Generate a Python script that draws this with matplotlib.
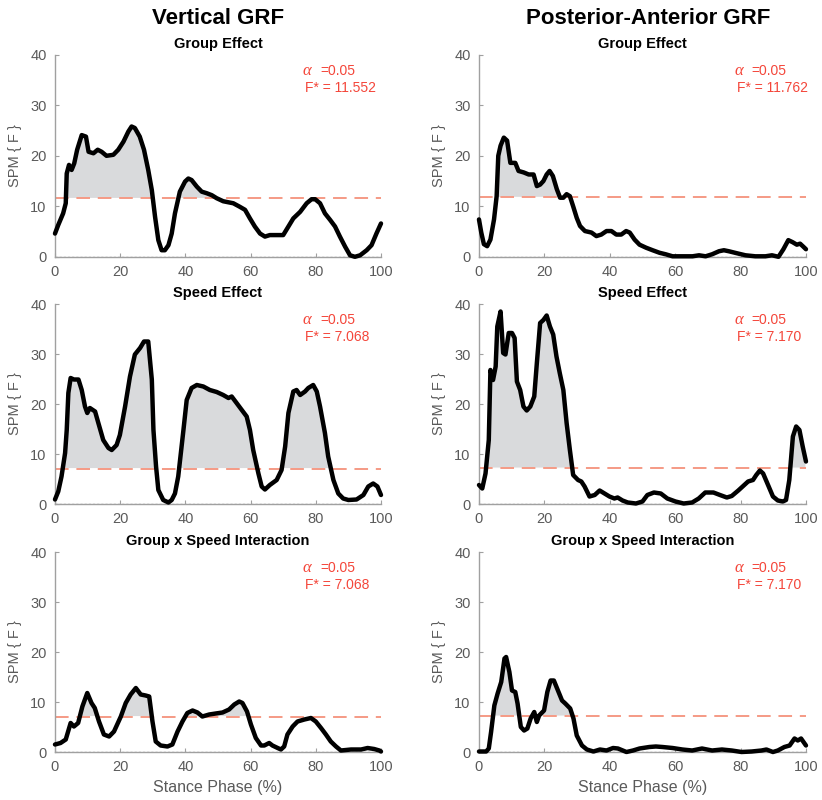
import numpy as np
import matplotlib
matplotlib.use('Agg')
import matplotlib.pyplot as plt

plt.rcParams['font.family'] = ['Liberation Sans', 'DejaVu Sans']

# column / row titles
col_titles = ['Vertical GRF', 'Posterior-Anterior GRF']
row_titles = ['Group Effect', 'Speed Effect', 'Group x Speed Interaction']
alpha_text = '=0.05'
thresholds = [[11.552, 11.762], [7.068, 7.170], [7.068, 7.170]]

# vertical GRF - group effect
vg_x = [0, 1, 2.5, 3.3, 3.6, 4.3, 5.1, 5.9, 6.8, 8.2, 9.5, 10.3, 11.8, 13.1, 14.3, 15.8,
        17.9, 19.4, 21, 22.5, 23.5, 24.5, 26, 27.3, 28.6, 29.7, 30.7, 31.7, 32.7, 33.7,
        34.8, 35.8, 36.8, 38.3, 39.9, 40.9, 41.9, 43.5, 45, 46.5, 48.1, 49.6, 51.6, 54.7,
        56.7, 58.3, 59.8, 61.3, 62.9, 64.4, 65.9, 68, 70, 71.6, 73.1, 75.2, 77.2, 78.7,
        79.8, 81.3, 82.8, 84.4, 85.9, 87.4, 89, 90.5, 92, 93.6, 95.6, 97.1, 98.6, 100]
vg_y = [4.6, 6.3, 8.6, 10.6, 16.5, 18.2, 17.2, 18.5, 21.2, 24.1, 23.8, 20.8, 20.5, 21.2,
        20.8, 20.0, 20.2, 21.2, 22.8, 24.8, 25.8, 25.5, 23.8, 21.2, 17.2, 13.2, 7.9, 3.3,
        1.3, 1.3, 2.3, 4.6, 8.6, 12.9, 14.9, 15.5, 15.2, 13.9, 12.9, 12.6, 12.2, 11.6,
        11.0, 10.6, 9.9, 9.3, 7.6, 6.0, 4.6, 4.0, 4.3, 4.3, 4.3, 6.0, 7.6, 8.9, 10.6, 11.4,
        11.4, 10.6, 8.6, 7.3, 6.0, 4.0, 2.0, 0.3, 0.0, 0.3, 1.3, 2.3, 4.6, 6.6]

# posterior-anterior GRF - group effect
pg_x = [0, 0.7, 1.5, 2.5, 3.5, 4.6, 5.4, 5.9, 6.6, 7.6, 8.6, 9.6, 11.1, 12.1, 13.7, 15.2,
        16.7, 17.7, 18.7, 19.7, 20.7, 21.6, 22.6, 23.8, 24.8, 25.8, 26.8, 27.8, 28.8,
        29.9, 30.9, 32.4, 34.4, 35.9, 37.4, 39, 40.5, 42, 43.5, 45, 46.1, 47.6, 49.1,
        51.1, 53.1, 55.2, 57.1, 59.2, 62.2, 65.3, 67.3, 69.3, 71.3, 73.4, 74.9, 76.4,
        78.9, 81.5, 84.5, 87.6, 89.6, 91.6, 93.1, 94.6, 95.9, 97.2, 98.2, 99.2, 100]
pg_y = [7.4, 4.8, 2.5, 2.1, 3.4, 7.4, 12.0, 20.0, 22.0, 23.6, 23.0, 18.6, 18.6, 17.0,
        16.7, 16.3, 16.3, 14.0, 14.3, 15.0, 16.3, 17.0, 16.0, 13.4, 11.7, 11.7, 12.4,
        12.0, 10.0, 7.7, 6.1, 5.1, 4.8, 4.1, 4.4, 5.1, 5.1, 4.4, 4.4, 5.1, 4.8, 3.4, 2.4,
        1.8, 1.3, 0.8, 0.5, 0.1, 0.1, 0.1, 0.3, 0.1, 0.5, 1.1, 1.3, 1.1, 0.7, 0.3, 0.1,
        0.1, 0.3, 0.0, 1.5, 3.3, 2.9, 2.4, 2.6, 2.0, 1.5]

# vertical GRF - speed effect
vs_x = [0, 1, 2, 3.1, 3.6, 4.1, 4.8, 5.8, 7.2, 8.2, 9.2, 9.9, 10.7, 12.3, 13.3, 14.8,
        16.4, 17.4, 18.9, 19.9, 21.5, 23, 24.5, 26.1, 27.3, 28.6, 29.7, 30.2, 31, 31.7,
        33.2, 34.8, 35.8, 36.8, 37.8, 39.4, 40.4, 41.9, 43.5, 45.5, 47.5, 49.6, 51.6,
        53.2, 54.2, 55.7, 57.3, 58.8, 59.8, 60.8, 62.4, 63.4, 64.4, 65.9, 68, 69.5, 70.6,
        71.6, 73.1, 74.1, 75.2, 76.7, 77.7, 79.2, 80.3, 81.3, 82.8, 83.8, 85.4, 86.9,
        88.4, 90, 92.5, 94.6, 96.1, 97.6, 98.9, 100]
vs_y = [0.9, 2.5, 5.5, 10.2, 14.8, 22.2, 25.2, 24.9, 24.9, 22.8, 19.5, 18.2, 19.2, 18.5,
        16.2, 12.8, 11.2, 10.8, 11.8, 13.8, 19.5, 25.5, 29.9, 31.2, 32.5, 32.5, 24.9,
        14.8, 7.5, 2.8, 0.8, 0.3, 0.8, 2.1, 5.5, 14.8, 20.8, 23.2, 23.8, 23.5, 22.8, 22.4,
        21.8, 21.2, 21.5, 20.2, 18.8, 17.5, 14.8, 10.8, 6.1, 3.5, 2.9, 3.8, 4.8, 6.8,
        11.5, 18.2, 22.5, 22.8, 21.8, 22.5, 23.2, 23.8, 22.5, 19.5, 14.2, 9.5, 4.8, 2.1,
        1.1, 0.8, 0.9, 1.8, 3.5, 4.1, 3.5, 1.8]

# posterior-anterior GRF - speed effect
ps_x = [0, 1, 2, 3, 3.5, 4.3, 5.1, 5.6, 6.6, 7.4, 8.1, 9.1, 10.1, 10.9, 11.6, 12.6, 13.6,
        14.6, 15.7, 16.9, 17.7, 18.7, 19.7, 20.7, 21.7, 22.7, 23.7, 24.7, 25.8, 26.8,
        27.8, 28.8, 30.3, 31.3, 32.3, 33.8, 35.4, 36.9, 38.4, 39.9, 41.4, 42.4, 43.9,
        45.5, 48, 50, 51.5, 53.5, 55.6, 57.6, 60.1, 62.6, 65.2, 67.2, 69.2, 71.7, 73.7,
        75.8, 77.3, 79.3, 80.8, 82.3, 83.8, 84.8, 85.9, 86.9, 88.4, 89.9, 91.4, 92.9,
        93.9, 94.9, 96, 97, 98, 99, 100]
ps_y = [3.8, 3.1, 6.1, 12.8, 26.8, 24.8, 27.5, 35.5, 38.5, 30.2, 29.9, 34.2, 34.2, 33.2,
        24.5, 22.8, 19.5, 18.7, 19.5, 21.5, 28.2, 36.2, 36.8, 37.7, 35.5, 33.9, 29.5,
        26.2, 22.8, 16.2, 10.8, 5.8, 4.8, 4.5, 3.5, 1.5, 1.8, 2.7, 2.1, 1.5, 1.1, 1.3,
        0.7, 0.3, 0.1, 0.5, 1.8, 2.3, 2.1, 1.1, 0.5, 0.1, 0.3, 1.1, 2.3, 2.3, 1.8, 1.3,
        1.6, 2.7, 3.6, 4.5, 4.8, 5.8, 6.7, 6.1, 3.8, 1.5, 0.7, 0.5, 0.8, 4.8, 13.5, 15.5,
        14.8, 11.5, 8.5]

# vertical GRF - interaction
vi_x = [0, 1.7, 3.3, 4.8, 5.8, 7.1, 8.4, 9.9, 11.2, 12.2, 13.5, 15, 16.6, 18.1, 20.2,
        21.7, 23.2, 24.8, 26.3, 27.8, 28.9, 29.9, 30.9, 32.4, 34.5, 36, 37.6, 39.1, 40.6,
        42.2, 43.7, 45.2, 47.3, 49.3, 51.4, 53.4, 55, 56.5, 57.5, 58.9, 60.1, 61.6, 63.2,
        64.2, 65.7, 66.7, 68.3, 69.3, 70.3, 71.3, 72.9, 74.4, 76.5, 78.5, 80, 81.6, 83.1,
        84.6, 86.2, 87.7, 90.8, 93.9, 95.9, 97.9, 99.5, 100]
vi_y = [1.5, 1.8, 2.5, 5.8, 5.1, 5.8, 9.1, 11.8, 9.8, 8.8, 6.1, 3.5, 3.1, 4.1, 7.1, 9.8,
        11.5, 12.8, 11.5, 11.3, 11.1, 6.1, 2.1, 1.3, 1.1, 1.5, 4.1, 6.1, 7.8, 8.3, 7.9,
        7.1, 7.5, 7.7, 7.9, 8.5, 9.5, 10.1, 9.8, 8.1, 5.5, 2.8, 1.3, 1.3, 1.8, 1.3, 0.8,
        0.5, 1.1, 3.5, 5.1, 6.1, 6.5, 6.8, 6.1, 4.8, 3.5, 2.1, 1.1, 0.3, 0.5, 0.5, 0.8,
        0.6, 0.3, 0.1]

# posterior-anterior GRF - interaction
pi_x = [0, 2.2, 3, 3.7, 4.7, 5.7, 6.8, 7.8, 8.3, 9.3, 10.1, 11.1, 11.8, 12.8, 13.8, 14.8,
        15.8, 16.9, 17.7, 18.4, 19.9, 20.9, 21.9, 22.9, 23.9, 25.4, 26.4, 27.9, 28.9,
        29.9, 31.5, 33, 35, 37, 39, 41, 42.5, 45.1, 47.1, 49.1, 52.1, 54.1, 56.1, 59.2,
        62.2, 65.2, 68.2, 71.3, 74.3, 77.3, 80.3, 83.4, 86.4, 87.9, 89.9, 91.4, 93.4, 95,
        96.5, 97.5, 98.5, 100]
pi_y = [0.1, 0.1, 0.7, 4.0, 9.3, 11.7, 14.0, 18.7, 19.0, 16.0, 12.3, 12.0, 9.7, 5.0, 4.3,
        4.7, 6.7, 8.0, 6.0, 7.3, 8.3, 12.0, 14.3, 14.3, 12.7, 10.3, 9.7, 8.7, 6.7, 3.3,
        1.3, 0.5, 0.1, 0.5, 0.3, 0.8, 0.7, 0.0, 0.3, 0.7, 1.0, 1.1, 1.0, 0.8, 0.5, 0.3,
        0.7, 0.3, 0.5, 0.3, 0.0, 0.1, 0.3, 0.5, 0.0, 0.3, 1.0, 1.3, 2.7, 2.3, 2.7, 1.3]

curves = [[(vg_x, vg_y), (pg_x, pg_y)],
          [(vs_x, vs_y), (ps_x, ps_y)],
          [(vi_x, vi_y), (pi_x, pi_y)]]

gray = '#5a5a5a'
red = '#f4463a'

fig = plt.figure(figsize=(8.22, 8.0), dpi=100)

lefts = [0.0669, 0.5827]
widths = [0.3966, 0.3978]
bottoms = [0.679, 0.37, 0.06]
heights = [0.2525, 0.25, 0.25]

for r in range(3):
    for c in range(2):
        ax = fig.add_axes([lefts[c], bottoms[r], widths[c], heights[r]])
        x = np.array(curves[r][c][0])
        y = np.array(curves[r][c][1])
        thr = thresholds[r][c]

        # shaded supra-threshold clusters
        ax.fill_between(x, y, thr, where=y > thr, interpolate=True,
                        facecolor='#d9dadc', edgecolor='white', linewidth=0.8, zorder=1)
        ax.axhline(thr, color='#f59a85', lw=1.4, dashes=(7, 4), zorder=2)
        ax.axhline(0, color='#9a9a9a', lw=1.0, ls=(0, (1.5, 1.5)), zorder=1.5)
        ax.plot(x, y, color='black', lw=3.2, solid_joinstyle='round',
                solid_capstyle='round', zorder=3, clip_on=False)

        ax.set_xlim(0, 100)
        ax.set_ylim(0, 40)
        ax.set_xticks(np.arange(0, 101, 20))
        ax.set_yticks(np.arange(0, 41, 10))
        for s in ['top', 'right']:
            ax.spines[s].set_visible(False)
        for s in ['left', 'bottom']:
            ax.spines[s].set_color('#a0a0a0')
            ax.spines[s].set_linewidth(1.0)
        ax.tick_params(direction='in', length=3, width=0.8, color='#a0a0a0',
                       labelcolor=gray, labelsize=10.5, pad=6)
        ax.set_ylabel('SPM { F }', color=gray, fontsize=10.5, labelpad=6)
        ax.set_title(row_titles[r], fontsize=10.5, fontweight='bold', pad=5)

        xa = 76 if c == 0 else 78
        ax.text(xa, 36.8, '\u03b1', color=red, fontsize=12, style='italic',
                family=['Liberation Serif', 'DejaVu Serif'], va='center', ha='left')
        ax.text(xa + 5.3, 36.8, alpha_text, color=red, fontsize=10, va='center', ha='left')
        ax.text(xa + 0.8, 33.4, 'F* = %.3f' % thr, color=red, fontsize=10,
                va='center', ha='left')

        if r == 2:
            ax.set_xlabel('Stance Phase (%)', color=gray, fontsize=11.5, labelpad=4)

fig.text(0.265, 0.977, col_titles[0], fontsize=16, fontweight='bold',
         ha='center', va='center')
fig.text(0.789, 0.977, col_titles[1], fontsize=16, fontweight='bold',
         ha='center', va='center')

fig.savefig('out.png', dpi=100)
